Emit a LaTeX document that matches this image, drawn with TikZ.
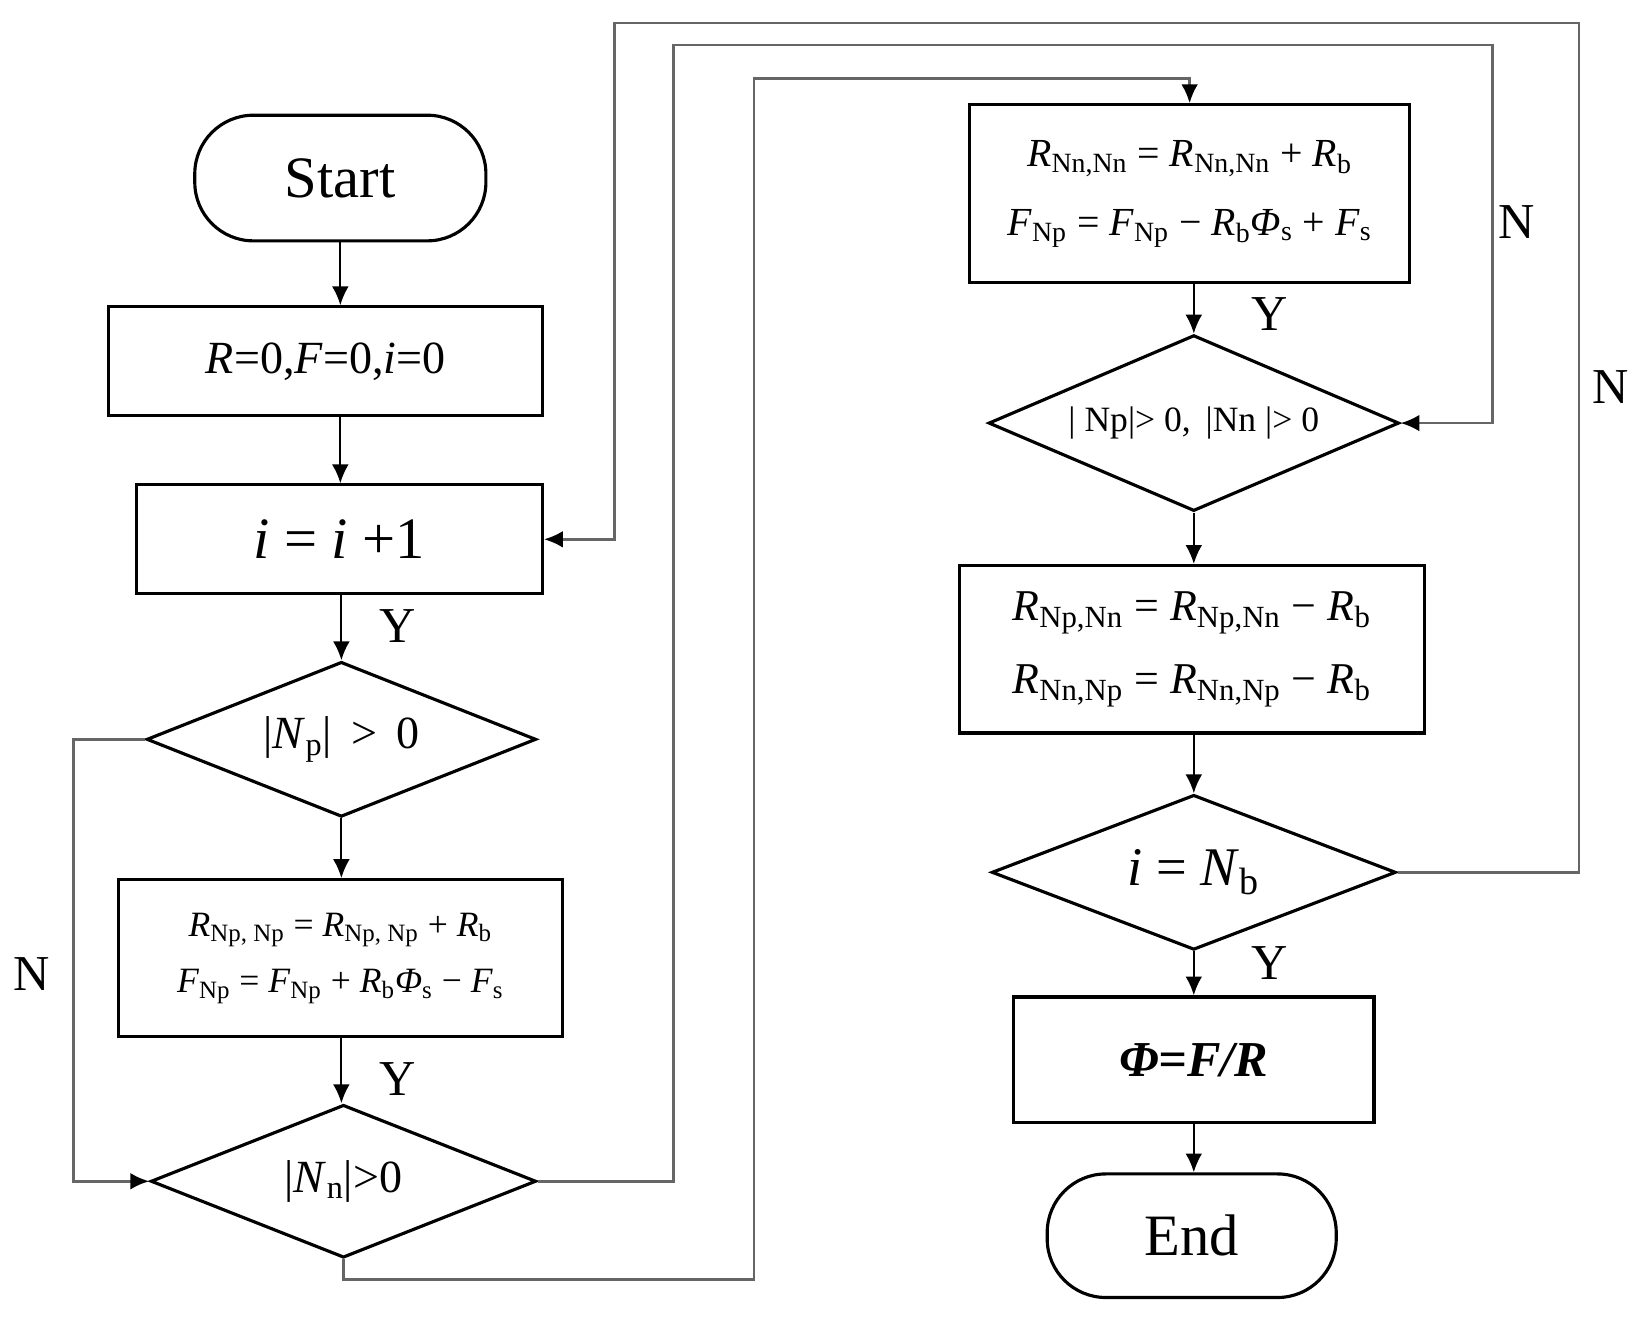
\documentclass[tikz,border=0pt]{standalone}
\usepackage{fontspec}
\setmainfont{Liberation Serif}
\usetikzlibrary{shapes.geometric,arrows.meta}
\newcommand{\fs}[1]{\fontsize{#1}{#1}\selectfont}
\newcommand{\sub}[1]{\textsubscript{#1}}
\begin{document}
\begin{tikzpicture}[x=0.5pt,y=-0.5pt,
  box/.style={draw,line width=1.5pt,inner sep=0pt,align=center},
  term/.style={draw,line width=1.5pt,rounded corners=28pt,inner sep=0pt},
  dia/.style={draw,diamond,line width=1.5pt,inner sep=0pt,align=center},
  arr/.style={line width=1pt,-{Latex[length=9pt,width=8pt]}},
  loop/.style={line width=1.2pt,draw=black!60,-{Latex[length=9pt,width=8pt,fill=black,color=black]}},
  lab/.style={font=\fs{24}}]
\useasboundingbox (0,0) rectangle (1568,1259);
\node[term,minimum width=139pt,minimum height=60pt,font=\fs{28}] (start) at (325,170) {Start};
\node[box,minimum width=207pt,minimum height=52pt,font=\fs{22}] (b1) at (311,345) {\textit{R}=0,\textit{F}=0,\textit{i}=0};
\node[box,minimum width=194pt,minimum height=52pt,font=\fs{28}] (b2) at (324,515) {\textit{i} = \textit{i} +1};
\node[dia,aspect=2.5,minimum width=186pt,minimum height=74pt,font=\fs{22}] (d1) at (326,706) {|\textit{N}\sub{p}| \,>\, 0};
\node[box,minimum width=212pt,minimum height=75pt,font=\fs{17}] (b3) at (325,915) {\textit{R}\sub{Np, Np} = \textit{R}\sub{Np, Np} + \textit{R}\sub{b}\\[10pt] \textit{F}\sub{Np} = \textit{F}\sub{Np} + \textit{R}\sub{b}\textit{Φ}\sub{s} − \textit{F}\sub{s}};
\node[dia,aspect=2.5,minimum width=184pt,minimum height=73pt,font=\fs{22}] (d2) at (328,1128) {|\textit{N}\sub{n}|>0};
\node[box,minimum width=210pt,minimum height=85pt,font=\fs{19}] (b4) at (1136,185) {\textit{R}\sub{Nn,Nn} = \textit{R}\sub{Nn,Nn} + \textit{R}\sub{b}\\[14pt] \textit{F}\sub{Np} = \textit{F}\sub{Np} − \textit{R}\sub{b}\textit{Φ}\sub{s} + \textit{F}\sub{s}};
\node[dia,aspect=2.33,minimum width=196pt,minimum height=84pt,font=\fs{17}] (d3) at (1140,404) {| Np|> 0, \,|Nn |> 0};
\node[box,minimum width=222pt,minimum height=80pt,font=\fs{21}] (b5) at (1138,620) {\textit{R}\sub{Np,Nn} = \textit{R}\sub{Np,Nn} − \textit{R}\sub{b}\\[14pt] \textit{R}\sub{Nn,Np} = \textit{R}\sub{Nn,Np} − \textit{R}\sub{b}};
\node[dia,aspect=2.6,minimum width=193pt,minimum height=74pt,font=\fs{26}] (d4) at (1140,833) {\textit{i} = \textit{N}\sub{b}};
\node[box,minimum width=172pt,minimum height=60pt,font=\fs{24}] (b6) at (1140,1012) {\textbf{\textit{Φ=F/R}}};
\node[term,minimum width=138pt,minimum height=59pt,font=\fs{28}] (end) at (1138,1180) {End};
\draw[arr] (start.south) -- (start.south |- b1.north);
\draw[arr] (start.south |- b1.south) -- (start.south |- b2.north);
\draw[arr] (b2.south -| d1.north) -- (d1.north);
\draw[arr] (d1) -- (d1.south |- b3.north);
\draw[arr] (d1.south |- b3.south) -- (d1.south |- d2.north);
\draw[arr] (b4.south -| d3.north) -- (d3.north);
\draw[arr] (d3) -- (d3.south |- b5.north);
\draw[arr] (d3.south |- b5.south) -- (d4.north);
\draw[arr] (d4) -- (d4.south |- b6.north);
\draw[arr] (b6) -- (b6.south |- end.north);
\draw[loop] (d1.west) -- (70,706) -- (70,1128) -- (d2.west);
\draw[loop] (d2.east) -- (643,1128) -- (643,43) -- (1425,43) -- (1425,404) -- (d3.east);
\draw[loop] (d2.south) -- (328,1222) -- (720,1222) -- (720,75) -- (1136,75) -- (b4.north);
\draw[loop] (d4.east) -- (1508,833) -- (1508,22) -- (587,22) -- (587,515) -- (b2.east);
\node[lab] (y1) at (380,598) {Y};
\node[lab] (y2) at (380,1030) {Y};
\node[lab] (y3) at (1212,300) {Y};
\node[lab] (y4) at (1212,920) {Y};
\node[lab] (n1) at (30,930) {N};
\node[lab] (n2) at (1448,212) {N};
\node[lab] (n3) at (1538,370) {N};
\end{tikzpicture}
\end{document}
